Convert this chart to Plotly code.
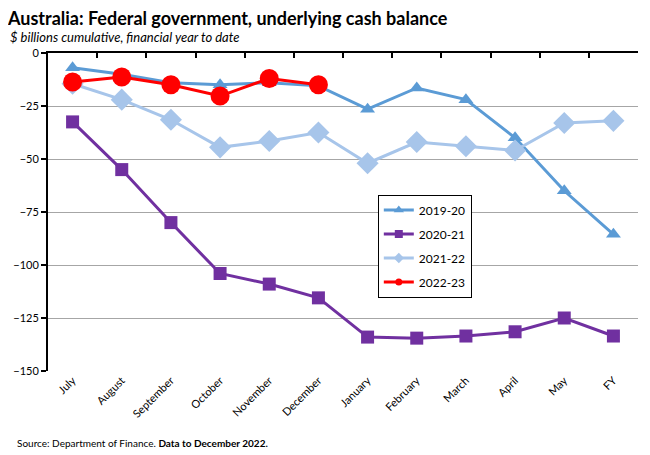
import plotly.graph_objects as go

# Data ($ billions, cumulative FYTD)
months = ["July", "August", "September", "October", "November", "December",
          "January", "February", "March", "April", "May", "FY"]

fy2019_20 = [-7, -10, -14, -15, -14, -15.5, -26.5, -16.5, -22, -40, -65, -85.5]
fy2020_21 = [-32.5, -55, -80, -104, -109, -115.5, -134, -134.5, -133.5, -131.5, -125, -133.5]
fy2021_22 = [-14.5, -22, -31.5, -44.5, -41.5, -37.5, -52, -42, -44, -46, -33, -32]
fy2022_23 = [-13.7, -11.3, -15, -20.3, -12, -15]

y_ticks = [0, -25, -50, -75, -100, -125, -150]

series = [
    ("2019-20", fy2019_20, "#5B9BD5", "triangle-up", 13, 9),
    ("2020-21", fy2020_21, "#7030A0", "square", 13, 8),
    ("2021-22", fy2021_22, "#A7C5EA", "diamond", 17, 8),
    ("2022-23", fy2022_23, "#FF0000", "circle", 19, 7),
]

fig = go.Figure()
for name, vals, col, sym, size, lsize in series:
    fig.add_trace(go.Scatter(
        x=list(range(len(vals))), y=vals, name=name, mode="lines+markers",
        line=dict(color=col, width=3),
        marker=dict(symbol=sym, size=size, color=col),
        showlegend=False,
    ))

# legend-only entries with the small symbols seen in the reference legend
for name, vals, col, sym, size, lsize in series:
    fig.add_trace(go.Scatter(
        x=[None], y=[None], name=name, mode="lines+markers", legendgroup=name,
        line=dict(color=col, width=3),
        marker=dict(symbol=sym, size=lsize, color=col),
    ))

# top category axis line (at y=0) with boundary ticks
fig.add_trace(go.Scatter(x=[None], y=[None], xaxis="x2", showlegend=False, hoverinfo="skip"))

# page body adds an 8px margin, so the figure is sized 8px smaller
fig.update_layout(
    width=642, height=447,
    font=dict(family="Lato", size=12, color="black"),
    paper_bgcolor="white", plot_bgcolor="white",
    margin=dict(l=40, r=12, t=45, b=84, autoexpand=False),
    title=dict(text="<b>Australia: Federal government, underlying cash balance</b>",
               x=0.0, xanchor="left", y=0.977, yanchor="middle",
               font=dict(size=18, family="Lato")),
    xaxis=dict(
        range=[-0.5, 11.5], tickmode="array",
        tickvals=list(range(len(months))), ticktext=months,
        tickangle=-45, showgrid=False, showline=False, ticks="",
        zeroline=False, tickfont=dict(size=11), automargin=False,
    ),
    xaxis2=dict(
        overlaying="x", side="top", range=[-0.5, 11.5],
        tickmode="array", tickvals=[i - 0.5 for i in range(13)],
        ticks="inside", ticklen=5, tickcolor="black", tickwidth=2,
        showticklabels=False, showline=True, linecolor="black", linewidth=2,
        showgrid=False, zeroline=False, automargin=False,
    ),
    yaxis=dict(
        range=[-150, 0], tickmode="array", tickvals=y_ticks,
        showgrid=True, gridcolor="#A6A6A6", gridwidth=1,
        showline=True, linecolor="black", linewidth=2,
        ticks="outside", ticklen=5, tickcolor="black", tickwidth=2,
        zeroline=False, tickfont=dict(size=11), automargin=False,
    ),
    legend=dict(
        x=0.559, y=0.555, xanchor="left", yanchor="top",
        bordercolor="black", borderwidth=1, bgcolor="white",
        font=dict(size=12), traceorder="grouped", tracegroupgap=5,
        itemwidth=30,
    ),
    showlegend=True,
    annotations=[
        dict(text="<i>$ billions cumulative, financial year to date</i>",
             xref="paper", yref="paper", x=-0.068, y=1.05,
             xanchor="left", yanchor="middle", showarrow=False,
             font=dict(size=13)),
        dict(text="Source: Department of Finance. <b>Data to December 2022.</b>",
             xref="paper", yref="paper", x=-0.056, y=-0.226,
             xanchor="left", yanchor="middle", showarrow=False,
             font=dict(size=10)),
    ],
)

fig.write_html("out.html")
